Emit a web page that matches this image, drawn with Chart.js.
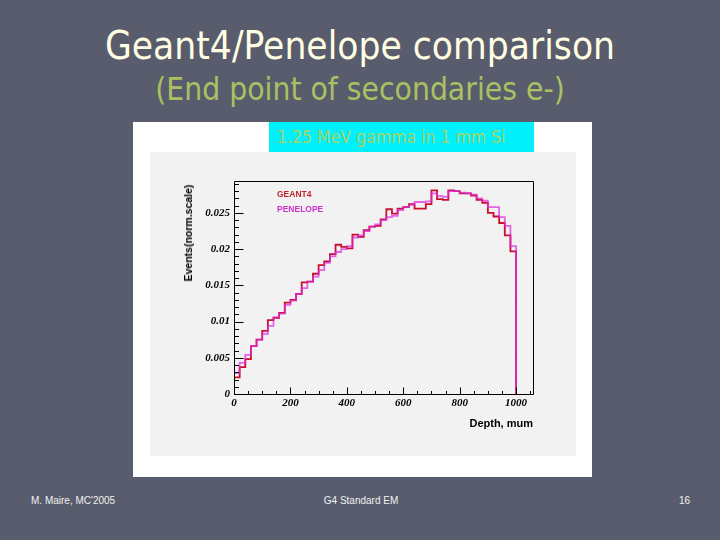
<!DOCTYPE html>
<html>
<head>
<meta charset="utf-8">
<script src="https://cdn.jsdelivr.net/npm/chart.js@4.4.0/dist/chart.umd.min.js"></script>
<style>
  html, body { margin: 0; padding: 0; }
  body { width: 720px; height: 540px; background: #595c6c; position: relative; overflow: hidden;
         font-family: "Liberation Sans", Arial, sans-serif; }
  .abs { position: absolute; white-space: nowrap; }
  #title { left: 0; width: 720px; top: 24px; line-height: 44px; text-align: center; color: #fffde2;
           font-family: "DejaVu Sans Condensed", "DejaVu Sans", sans-serif; font-stretch: condensed; font-size: 38.5px; }
  #subtitle { left: 0; width: 720px; top: 71px; line-height: 36px; text-align: center; color: #a9c162;
           font-family: "DejaVu Sans Condensed", "DejaVu Sans", sans-serif; font-stretch: condensed; font-size: 31.5px; }
  #whitebox { left: 133px; top: 122px; width: 459px; height: 355px; background: #ffffff; }
  #panel { left: 150px; top: 152px; width: 426px; height: 304px; background: #f2f2f2; }
  #cyan { left: 269px; top: 122px; width: 265px; height: 30px; background: #00f0fc; color: #a6d266;
          font-family: "DejaVu Sans Condensed", "DejaVu Sans", sans-serif; font-stretch: condensed;
          font-size: 17.5px; line-height: 30px; padding-left: 8px; box-sizing: border-box; }
  #chartwrap { left: 150px; top: 152px; width: 426px; height: 304px; }
  #ytitle { left: 188px; top: 233px; transform: translate(-50%, -50%) rotate(-90deg); font-weight: bold;
            font-size: 10.5px; color: #000; }
  #xtitle { right: 187px; top: 416px; font-weight: bold; font-size: 11px; line-height: 14px; color: #000; }
  .leg { left: 277px; font-weight: bold; font-size: 8.5px; line-height: 10px; }
  #legG { top: 189px; color: #c82030; }
  #legP { top: 204px; color: #cc33cc; }
  .foot { top: 495px; font-size: 10px; line-height: 12px; color: #f0f0f0; }
</style>
</head>
<body>
<div id="title" class="abs">Geant4/Penelope comparison</div>
<div id="subtitle" class="abs">(End point of secondaries e-)</div>
<div id="whitebox" class="abs"></div>
<div id="panel" class="abs"></div>
<div id="cyan" class="abs">1.25 MeV gamma in 1 mm Si</div>
<div id="chartwrap" class="abs"><canvas id="c" width="426" height="304"></canvas></div>
<div id="ytitle" class="abs">Events(norm.scale)</div>
<div id="xtitle" class="abs">Depth, mum</div>
<div id="legG" class="abs leg">GEANT4</div>
<div id="legP" class="abs leg">PENELOPE</div>
<div class="abs foot" style="left:31px">M. Maire, MC'2005</div>
<div class="abs foot" style="left:361px; transform: translateX(-50%)">G4 Standard EM</div>
<div class="abs foot" style="right:30px">16</div>
<script>
// Bin edges of depth histogram (mum)
const binEdges = [0,20,40,60,80,100,120,140,160,180,200,220,240,260,280,300,320,340,360,380,
                  400,420,440,460,480,500,520,540,560,580,600,620,640,660,680,700,720,740,760,780,
                  800,820,840,860,880,900,920,940,960,980,1000];
// Series values per bin
const geant4 = [0.0023,0.0037,0.0048,0.0066,0.0075,0.0087,0.0102,0.0105,0.0112,0.0126,
                0.0130,0.0138,0.0154,0.0155,0.0166,0.0178,0.0183,0.0193,0.0206,0.0203,
                0.0201,0.0220,0.0217,0.0226,0.0231,0.0232,0.0241,0.0255,0.0249,0.0256,
                0.0258,0.0262,0.0256,0.0256,0.0262,0.0281,0.0269,0.0268,0.0281,0.0280,
                0.0277,0.0277,0.0274,0.0268,0.0264,0.0250,0.0245,0.0236,0.0219,0.0197];
const penelope = [0.0029,0.0043,0.0054,0.0066,0.0075,0.0083,0.0094,0.0106,0.0111,0.0123,
                  0.0129,0.0138,0.0146,0.0155,0.0162,0.0171,0.0181,0.0190,0.0196,0.0200,
                  0.0204,0.0216,0.0219,0.0225,0.0231,0.0234,0.0240,0.0244,0.0246,0.0254,
                  0.0258,0.0261,0.0265,0.0265,0.0266,0.0277,0.0273,0.0272,0.0280,0.0280,
                  0.0278,0.0277,0.0275,0.0270,0.0267,0.0258,0.0258,0.0244,0.0232,0.0204];
// Tick labels / tick positions
const xTickLabels = [0,200,400,600,800,1000];
const xMinorTicks = [50,100,150,250,300,350,450,500,550,650,700,750,850,900,950,1050];
const yTickLabels = [0,0.005,0.01,0.015,0.02,0.025];
const yMinorTicks = [0.001,0.002,0.003,0.004,0.006,0.007,0.008,0.009,0.011,0.012,0.013,0.014,
                     0.016,0.017,0.018,0.019,0.021,0.022,0.023,0.024,0.026,0.027,0.028,0.029];
const xRange = [0, 1060];
const yRange = [0, 0.0294];

function histPoints(vals) {
  return binEdges.map((e, i) => ({ x: e, y: i < vals.length ? vals[i] : 0 }));
}

const frameTicks = {
  id: 'frameTicks',
  afterDatasetsDraw(chart) {
    const { ctx, chartArea: a, scales: { x, y } } = chart;
    ctx.save();
    ctx.strokeStyle = '#000';
    ctx.lineWidth = 1;
    ctx.beginPath();
    const L = Math.round(a.left) + 0.5, R = Math.round(a.right) + 0.5;
    const T = Math.round(a.top) + 0.5, B = Math.round(a.bottom) + 0.5;
    ctx.rect(L, T, R - L, B - T);
    yTickLabels.forEach(v => { const p = Math.round(y.getPixelForValue(v)) + 0.5; ctx.moveTo(L, p); ctx.lineTo(L + 9, p); });
    yMinorTicks.forEach(v => { const p = Math.round(y.getPixelForValue(v)) + 0.5; ctx.moveTo(L, p); ctx.lineTo(L + 4.5, p); });
    xTickLabels.forEach(v => { const p = Math.round(x.getPixelForValue(v)) + 0.5; ctx.moveTo(p, B); ctx.lineTo(p, B - 7); });
    xMinorTicks.forEach(v => { const p = Math.round(x.getPixelForValue(v)) + 0.5; ctx.moveTo(p, B); ctx.lineTo(p, B - 3.5); });
    ctx.stroke();
    ctx.restore();
  }
};

const tickFont = { family: '"Liberation Serif", "Times New Roman", serif', size: 11, style: 'italic', weight: 'bold' };

new Chart(document.getElementById('c'), {
  type: 'line',
  data: {
    datasets: [
      { label: 'GEANT4', data: histPoints(geant4), stepped: true, borderColor: '#c8102e', borderWidth: 1.8,
        pointRadius: 0, fill: false, order: 2 },
      { label: 'PENELOPE', data: histPoints(penelope), stepped: true, borderColor: 'rgba(222,40,222,0.7)', borderWidth: 1.8,
        pointRadius: 0, fill: false, order: 1 }
    ]
  },
  options: {
    responsive: false,
    animation: false,
    events: [],
    layout: { padding: { left: 0, top: 29, right: 43, bottom: 0 } },
    plugins: { legend: { display: false }, tooltip: { enabled: false }, title: { display: false } },
    scales: {
      x: {
        type: 'linear', min: xRange[0], max: xRange[1],
        grid: { display: false, drawTicks: false }, border: { display: false },
        afterBuildTicks: s => { s.ticks = xTickLabels.map(v => ({ value: v })); },
        afterFit: s => { s.height = 62; },
        ticks: { font: tickFont, color: '#000', padding: 3, maxRotation: 0, autoSkip: false, callback: v => String(v) }
      },
      y: {
        type: 'linear', min: yRange[0], max: yRange[1],
        grid: { display: false, drawTicks: false }, border: { display: false },
        afterBuildTicks: s => { s.ticks = yTickLabels.map(v => ({ value: v })); },
        afterFit: s => { s.width = 84; },
        ticks: { font: tickFont, color: '#000', padding: 4, autoSkip: false,
                 callback: v => String(parseFloat(v.toFixed(4))) }
      }
    }
  },
  plugins: [frameTicks]
});
</script>
</body>
</html>
